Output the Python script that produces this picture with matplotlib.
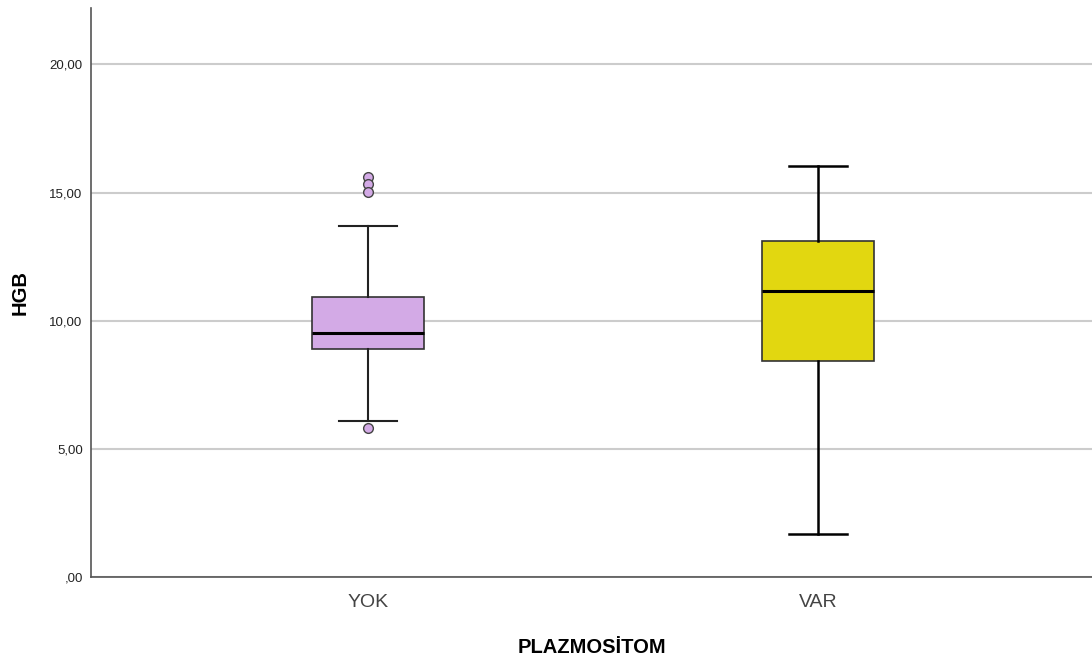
import matplotlib.pyplot as plt

plt.rcParams["font.family"] = ["Liberation Sans", "DejaVu Sans"]

# 箱线图统计量
groups = ["YOK", "VAR"]
q1 = [8.91, 8.44]
med = [9.53, 11.17]
q3 = [10.94, 13.09]
whislo = [6.09, 1.68]
whishi = [13.71, 16.02]
fliers = [[15.59, 15.35, 15.04, 5.82], []]
colors = ["#D3AAE6", "#E2D710"]

stats = []
for i, g in enumerate(groups):
    stats.append(dict(label=g, q1=q1[i], med=med[i], q3=q3[i],
                      whislo=whislo[i], whishi=whishi[i], fliers=fliers[i]))

fig = plt.figure(figsize=(10.92, 6.62), dpi=100)
ax = fig.add_axes([91 / 1092, 85 / 662, 1 - 91 / 1092, 569 / 662])

bp = ax.bxp(stats, positions=[1, 2], widths=0.25, patch_artist=True,
            boxprops=dict(linewidth=1.2, edgecolor="#333333"),
            medianprops=dict(color="black", linewidth=2.2),
            whiskerprops=dict(color="black", linewidth=1.8),
            capprops=dict(color="black", linewidth=1.8),
            capwidths=0.128,
            flierprops=dict(marker="o", markersize=7, markerfacecolor=colors[0],
                            markeredgecolor="#444444", markeredgewidth=1.0))
for patch, c in zip(bp["boxes"], colors):
    patch.set_facecolor(c)
# YOK 的须线略细
for ln in bp["whiskers"][:2] + bp["caps"][:2]:
    ln.set_color("#222222")
    ln.set_linewidth(1.5)

# 网格线与坐标轴
ax.set_axisbelow(True)
ax.yaxis.grid(True, color="#CCCCCC", linewidth=1.5)
ax.set_xlim(0.384, 2.609)
ax.set_ylim(0, 22.2)
ax.set_yticks([0, 5, 10, 15, 20])
ax.set_yticklabels([",00", "5,00", "10,00", "15,00", "20,00"], fontsize=9.5, color="#222222")
ax.set_xticks([1, 2])
ax.set_xticklabels(groups, fontsize=14, color="#444444")
ax.tick_params(axis="both", length=0)
ax.tick_params(axis="x", pad=12)
ax.tick_params(axis="y", pad=6)
for s in ["top", "right"]:
    ax.spines[s].set_visible(False)
for s in ["left", "bottom"]:
    ax.spines[s].set_color("#555555")
    ax.spines[s].set_linewidth(1.2)

ax.set_xlabel("PLAZMOSİTOM", fontsize=14.5, fontweight="bold", labelpad=20)
ax.set_ylabel("HGB", fontsize=14.5, fontweight="bold", labelpad=14)

fig.savefig("out.png", dpi=100)
